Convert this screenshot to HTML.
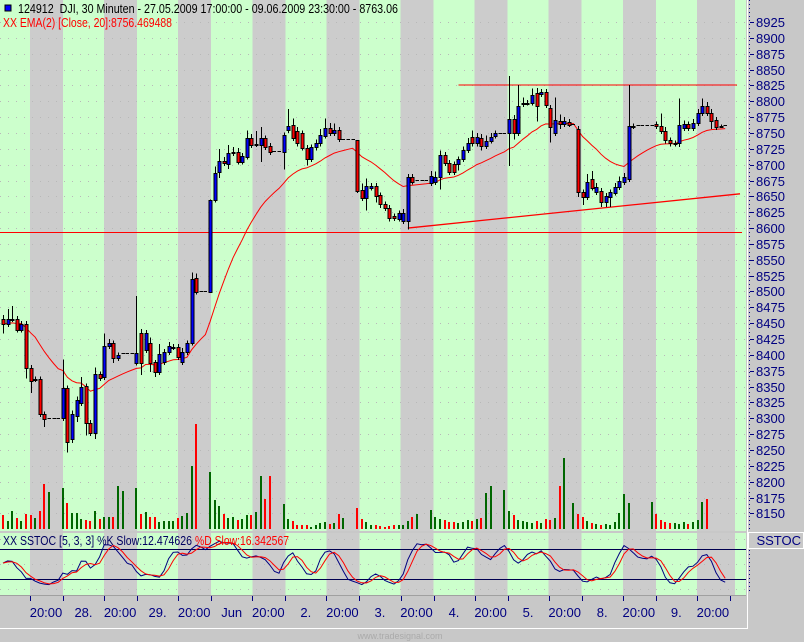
<!DOCTYPE html>
<html><head><meta charset="utf-8"><title>DJI 30 min</title>
<style>
html,body{margin:0;padding:0;background:#c8c8c8;}
svg{display:block;font-family:"Liberation Sans",sans-serif;}
</style></head>
<body>
<svg id="chart" width="804" height="642" viewBox="0 0 804 642" xmlns="http://www.w3.org/2000/svg" shape-rendering="crispEdges">
<rect x="0" y="0" width="804" height="642" fill="#c8c8c8"/>
<g id="bands"></g>
<g id="grid"></g>
<g id="vol"></g>
<g id="lines"></g>
<g id="ema"></g>
<g id="candles"></g>
<g id="stoch"></g>
<g id="axes"></g>
<g>
<rect x="5" y="5" width="6" height="6" fill="#0000ff" stroke="#000"/>
<text x="18" y="13" font-size="13" fill="#000" textLength="380" lengthAdjust="spacingAndGlyphs" xml:space="preserve">124912  DJI, 30 Minuten - 27.05.2009 17:00:00 - 09.06.2009 23:30:00 - 8763.06</text>
<text x="3" y="27" font-size="13" fill="#ff0000" textLength="169" lengthAdjust="spacingAndGlyphs">XX EMA(2) [Close, 20]:8756.469488</text>
</g>
<text x="3" y="545" font-size="13" fill="#000060" textLength="189" lengthAdjust="spacingAndGlyphs">XX SSTOC [5, 3, 3] %K Slow:12.474626</text>
<text x="195" y="545" font-size="13" fill="#ff0000" textLength="94" lengthAdjust="spacingAndGlyphs">%D Slow:16.342567</text>
<text x="400" y="639" font-size="9" fill="#aaaaaa" text-anchor="middle">www.tradesignal.com</text>
</svg>
<script>
const opens=[8457,8449,8457,8457,8440,8449,8380,8362,8362,8307,8301,8301,8301,8301,8348,8266,8302,8324,8351,8293,8277,8370,8365,8414,8419,8395,8403,8403,8403,8388,8435,8408,8419,8388,8373,8389,8405,8413,8413,8389,8405,8419,8522,8500,8500,8500,8645,8687,8706,8701,8719,8720,8705,8712,8742,8733,8731,8742,8730,8722,8722,8720,8755,8763,8753,8750,8727,8709,8727,8734,8746,8758,8750,8755,8741,8741,8741,8739,8660,8648,8664,8667,8652,8638,8632,8619,8615,8611,8611,8681,8676,8676,8676,8671,8673,8681,8716,8703,8701,8701,8709,8723,8744,8734,8742,8730,8738,8746,8750,8750,8750,8772,8750,8796,8798,8798,8813,8812,8815,8790,8750,8769,8764,8768,8764,8757,8657,8649,8678,8657,8659,8641,8649,8656,8665,8673,8678,8761,8763,8763,8763,8763,8764,8761,8753,8739,8734,8734,8758,8764,8758,8766,8782,8793,8782,8771,8761,8763];
const closes=[8449,8457,8457,8440,8449,8380,8359,8362,8307,8299,8301,8301,8301,8348,8263,8306,8328,8350,8293,8277,8370,8364,8414,8419,8395,8400,8403,8403,8403,8403,8388,8435,8388,8373,8402,8405,8414,8413,8397,8405,8419,8520,8500,8500,8500,8645,8687,8705,8703,8719,8720,8705,8714,8742,8731,8733,8742,8728,8720,8722,8722,8747,8761,8742,8734,8727,8709,8728,8734,8746,8758,8750,8755,8741,8741,8741,8741,8659,8648,8667,8667,8652,8638,8632,8616,8616,8624,8624,8681,8673,8676,8676,8676,8682,8681,8716,8703,8689,8689,8709,8723,8734,8734,8744,8730,8738,8744,8750,8750,8750,8772,8750,8793,8798,8798,8810,8793,8815,8794,8760,8771,8764,8769,8764,8764,8657,8649,8673,8664,8665,8641,8651,8657,8665,8675,8681,8761,8761,8763,8763,8763,8763,8761,8753,8739,8734,8734,8763,8764,8758,8766,8782,8793,8782,8769,8760,8761,8763];
const hiExt=[6,15,20,4,4,4,4,4,4,4,0,0,0,45,4,6,6,15,4,4,10,4,20,6,4,4,0,0,0,90,6,4,8,4,15,4,6,4,4,6,4,10,6,0,0,0,10,20,6,12,8,6,4,12,6,20,17,4,4,0,0,4,27,10,6,4,4,4,6,10,15,8,10,4,0,0,0,0,10,11,4,4,4,4,4,4,4,6,4,4,0,0,0,8,8,6,4,4,4,4,6,8,10,6,6,8,6,4,0,0,68,6,33,8,4,10,8,4,4,4,35,10,6,4,0,4,4,12,12,6,4,4,4,6,6,6,65,4,0,0,0,0,4,20,6,4,4,41,6,4,6,6,11,6,6,4,2,0];
const loExt=[15,5,5,5,5,17,19,5,5,13,0,0,0,5,17,5,8,5,20,5,10,5,5,5,8,5,0,0,0,5,20,5,15,8,5,5,5,5,5,5,5,4,5,0,0,0,5,8,5,8,5,5,5,4,5,5,27,5,5,0,0,28,5,5,5,5,10,5,5,5,5,5,5,5,0,0,0,4,5,20,5,12,6,5,6,5,5,5,13,4,0,0,0,5,5,20,5,5,5,10,5,5,5,5,8,5,5,5,0,0,52,10,5,5,5,5,25,5,5,25,5,8,5,5,0,8,13,5,5,5,8,8,16,5,5,5,5,5,0,0,0,0,5,5,6,5,5,6,5,5,5,5,5,5,13,5,3,0];
const volumes=[14,8,18,11,8,15,14,11,18,45,37,0,0,41,26,16,16,10,9,8,18,10,12,12,12,43,38,0,0,41,15,17,12,12,7,8,8,8,11,13,16,63,105,0,0,57,29,23,15,11,12,9,10,14,14,17,53,30,53,0,0,25,10,8,4,4,4,2,4,6,7,5,6,15,11,0,0,21,10,7,4,4,3,2,3,4,4,4,8,12,15,0,0,19,12,10,9,7,7,6,7,9,8,10,11,36,43,0,0,39,18,14,9,8,7,6,8,6,10,9,11,43,71,0,26,15,12,8,6,5,4,5,4,7,16,35,26,0,0,0,0,27,15,9,7,6,6,5,7,5,7,9,27,30,0,0,0];
const priceTicks=[8150,8175,8200,8225,8250,8275,8300,8325,8350,8375,8400,8425,8450,8475,8500,8525,8550,8575,8600,8625,8650,8675,8700,8725,8750,8775,8800,8825,8850,8875,8900,8925];
const timeLabels=["20:00","28.","20:00","29.","20:00","Jun","20:00","2.","20:00","3.","20:00","4.","20:00","5.","20:00","8.","20:00","9.","20:00"];
const resistance=[99,157,8826];
const support=[88,160,8600,8654];
const hLevel=8593;

const NS="http://www.w3.org/2000/svg";
function mk(tag,attrs,parent){const e=document.createElementNS(NS,tag);for(const k in attrs)e.setAttribute(k,attrs[k]);parent.appendChild(e);return e;}
const xB=i=>3+i*4.6;
const yP=p=>22+(8925-p)*0.634;
const yV=v=>529-v;
const yS=s=>589-s*0.5;
const N=closes.length;

const gB=document.getElementById('bands');
let r=mk('rect',{x:0,y:0,width:746,height:531,fill:'#ccffcc'},gB);

r=mk('rect',{x:0,y:533,width:746,height:62,fill:'#ccffcc'},gB);

for(let k=0;k<10;k++){
  const x=30+74.1*k, w=(k==9?38:33);
  r=mk('rect',{x:x,y:0,width:w,height:531,fill:'#cccccc'},gB);
  
  r=mk('rect',{x:x,y:533,width:w,height:62,fill:'#cccccc'},gB);
  
}
const gG=document.getElementById('grid');
priceTicks.forEach(p=>{
  const l=mk('line',{x1:0,x2:746,y1:Math.round(yP(p))+0.5,y2:Math.round(yP(p))+0.5,stroke:'#b8b8b8','stroke-dasharray':'1 7'},gG);
  
});
[100,50,0].forEach(s=>{
  const l=mk('line',{x1:0,x2:746,y1:yS(s)+0.5,y2:yS(s)+0.5,stroke:'#b8b8b8','stroke-dasharray':'1 7'},gG);
  
});
const gVo=document.getElementById('vol');
for(let i=0;i<N;i++){
  if(!volumes[i])continue;
  const up=closes[i]>=opens[i];
  const b=mk('rect',{x:Math.round(xB(i))-1,y:yV(volumes[i]),width:2,height:volumes[i],fill:up?'#006600':'#ff0000'},gVo);
  
}
const gL=document.getElementById('lines');
let ln=mk('line',{x1:xB(resistance[0]),x2:xB(resistance[1])+12,y1:yP(resistance[2]),y2:yP(resistance[2]),stroke:'#ff0000','stroke-width':1},gL);

ln=mk('line',{x1:xB(support[0]),x2:740,y1:yP(support[2]),y2:yP(support[3]),stroke:'#ff0000','stroke-width':1.3,'shape-rendering':'auto'},gL);

ln=mk('line',{x1:0,x2:742,y1:Math.round(yP(hLevel))+0.5,y2:Math.round(yP(hLevel))+0.5,stroke:'#ff0000','stroke-width':1},gL);

let ema=[],a=2/21;
for(let i=0;i<N;i++)ema.push(i==0?closes[0]:ema[i-1]+a*(closes[i]-ema[i-1]));
const gE=document.getElementById('ema');
let pe=mk('polyline',{points:ema.map((v,i)=>xB(i).toFixed(1)+','+yP(v).toFixed(1)).join(' '),fill:'none',stroke:'#ff0000','stroke-width':1,'shape-rendering':'auto'},gE);

const gC=document.getElementById('candles');
for(let i=0;i<N;i++){
  const o=opens[i],c=closes[i],xc=Math.round(xB(i));
  const hi=Math.max(o,c)+hiExt[i],lo=Math.min(o,c)-loExt[i];
  if(o==c&&hiExt[i]==0&&loExt[i]==0){
    const d=mk('line',{x1:xc-1.5,x2:xc+2,y1:Math.round(yP(c))+0.5,y2:Math.round(yP(c))+0.5,stroke:'#000','stroke-width':1},gC);
    
    continue;
  }
  const w=mk('line',{x1:xc+0.5,x2:xc+0.5,y1:yP(hi),y2:yP(lo),stroke:'#000'},gC);
  
  const top=yP(Math.max(o,c)),bot=yP(Math.min(o,c));
  const b=mk('rect',{x:xc-1,y:Math.round(top)+0.5,width:3,height:Math.max(1,Math.round(bot-top)),fill:c>o?'#0000ff':(c<o?'#ff0000':'#000'),stroke:'#000'},gC);
  
}
let raw=[];
for(let i=0;i<N;i++){
  let hh=-1e9,ll=1e9;
  for(let j=Math.max(0,i-4);j<=i;j++){hh=Math.max(hh,Math.max(opens[j],closes[j])+hiExt[j]);ll=Math.min(ll,Math.min(opens[j],closes[j])-loExt[j]);}
  raw.push(hh>ll?(closes[i]-ll)/(hh-ll)*100:50);
}
const sma=(arr,n)=>arr.map((v,i)=>{let s=0,c=0;for(let j=Math.max(0,i-n+1);j<=i;j++){s+=arr[j];c++;}return s/c;});
const kS=sma(raw,3),dS=sma(kS,3);
const gS=document.getElementById('stoch');
[80,20].forEach(lv=>{
  const l=mk('line',{x1:0,x2:746,y1:yS(lv)+0.5,y2:yS(lv)+0.5,stroke:'#000050','stroke-width':1},gS);
  
});
let pk=mk('polyline',{points:kS.map((v,i)=>xB(i).toFixed(1)+','+yS(v).toFixed(1)).join(' '),fill:'none',stroke:'#000080','stroke-width':1,'shape-rendering':'auto'},gS);

let pd=mk('polyline',{points:dS.map((v,i)=>xB(i).toFixed(1)+','+yS(v).toFixed(1)).join(' '),fill:'none',stroke:'#ff0000','stroke-width':1,'shape-rendering':'auto'},gS);

const gA=document.getElementById('axes');
let sep=mk('rect',{x:0,y:531,width:746,height:2,fill:'#c8c8c8'},gA);

let rb=mk('rect',{x:746,y:0,width:58,height:642,fill:'#c8c8c8'},gA);

let wl=mk('line',{x1:747.5,x2:747.5,y1:0,y2:629,stroke:'#ffffff'},gA);

wl=mk('line',{x1:0,x2:748,y1:628.5,y2:628.5,stroke:'#ffffff'},gA);

wl=mk('line',{x1:0,x2:746,y1:595.5,y2:595.5,stroke:'#a0a0a0'},gA);

let dv=mk('line',{x1:749.5,x2:749.5,y1:0,y2:530,stroke:'#000080','stroke-dasharray':'1 3'},gA);

dv=mk('line',{x1:749.5,x2:749.5,y1:550,y2:592,stroke:'#000080','stroke-dasharray':'1 3'},gA);

priceTicks.forEach(p=>{
  const y=Math.round(yP(p));
  const t=mk('line',{x1:750,x2:754,y1:y+0.5,y2:y+0.5,stroke:'#000080'},gA);
  
  const tx=mk('text',{x:756,y:y+5,'font-size':13,fill:'#000080'},gA);
  tx.textContent=p;
  
});
let sb=mk('rect',{x:748.5,y:532.5,width:55,height:16,fill:'#c8c8c8',stroke:'#ffffff'},gA);

let st=mk('text',{x:801,y:545,'font-size':13,fill:'#000080','text-anchor':'end'},gA);
st.textContent='SSTOC';

for(let k=0;k<20;k++){
  const x=Math.round(30+74.1*Math.floor(k/2)+(k%2?33:0))+0.5;
  if(x>746)break;
  const t=mk('line',{x1:x,x2:x,y1:596,y2:601,stroke:'#000080'},gA);
  
}
timeLabels.forEach((lab,k)=>{
  const base=30+74.1*Math.floor(k/2);
  const cx=k%2==0?base+16:base+33+20.5;
  const tx=mk('text',{x:cx,y:617,'font-size':13,fill:'#000080','text-anchor':'middle'},gA);
  tx.textContent=lab;
  
});
</script>
</body></html>
